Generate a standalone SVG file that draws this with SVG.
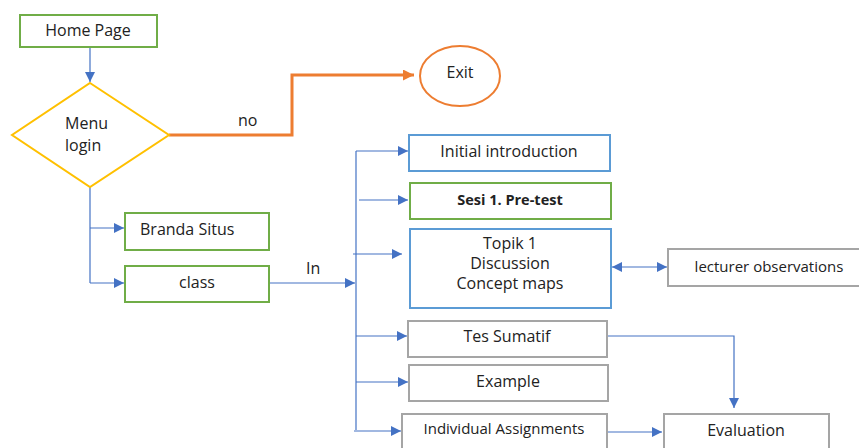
<svg xmlns="http://www.w3.org/2000/svg" width="859" height="448" viewBox="0 0 859 448">
<style>
text{font-family:"Open Sans","Liberation Sans",sans-serif;font-size:16px;fill:#222;}
.c{text-anchor:middle;}
.g{fill:#fff;stroke:#70AD47;stroke-width:2;}
.b{fill:#fff;stroke:#5B9BD5;stroke-width:2;}
.r{fill:#fff;stroke:#A5A5A5;stroke-width:2;}
.ln{fill:none;stroke:#4472C4;stroke-width:1.2;}
</style>
<defs>
<marker id="a" viewBox="0 0 10 10" refX="10" refY="5" markerWidth="10" markerHeight="10" markerUnits="userSpaceOnUse" orient="auto-start-reverse"><path d="M0,0L10,5L0,10z" fill="#4472C4"/></marker>
<marker id="o" viewBox="0 0 10 10" refX="10" refY="5" markerWidth="11" markerHeight="11" markerUnits="userSpaceOnUse" orient="auto"><path d="M0,0L10,5L0,10z" fill="#ED7D31"/></marker>
</defs>
<g id="connectors">
<path class="ln" d="M90,47V82" marker-end="url(#a)"/>
<path d="M169,135H292V75H414" fill="none" stroke="#ED7D31" stroke-width="3" marker-end="url(#o)"/>
<text x="238" y="126">no</text>
<path class="ln" d="M90,187V283"/>
<path class="ln" d="M90,228H124" marker-end="url(#a)"/>
<path class="ln" d="M90,283H124" marker-end="url(#a)"/>
<path class="ln" d="M269,283H355" marker-end="url(#a)"/>
<text x="306" y="274">In</text>
<path class="ln" d="M356,151V430"/>
<path class="ln" d="M356,151H408" marker-end="url(#a)"/>
<path class="ln" d="M359,200H408" marker-end="url(#a)"/>
<path class="ln" d="M353,254H402" marker-end="url(#a)"/>
<path class="ln" d="M356,336H407" marker-end="url(#a)"/>
<path class="ln" d="M356,382H408" marker-end="url(#a)"/>
<path class="ln" d="M354,431H401" marker-end="url(#a)"/>
<path class="ln" d="M612,267H667" marker-start="url(#a)" marker-end="url(#a)"/>
<path class="ln" d="M607,336H734V408" marker-end="url(#a)"/>
<path class="ln" d="M608,432H662" marker-end="url(#a)"/>
</g>
<g id="home"><rect class="g" x="20" y="15" width="137" height="32"/><text class="c" x="88" y="36">Home Page</text></g>
<g id="menu"><path d="M90,83L169,135L90,187L12,135z" fill="#fff" stroke="#FFC000" stroke-width="2"/><text x="65" y="129">Menu</text><text x="65" y="151">login</text></g>
<g id="exit"><ellipse cx="460" cy="76" rx="40" ry="30" fill="#fff" stroke="#ED7D31" stroke-width="2"/><text class="c" x="460" y="78">Exit</text></g>
<g id="branda"><rect class="g" x="125" y="213" width="144" height="37"/><text x="140" y="235">Branda Situs</text></g>
<g id="class"><rect class="g" x="125" y="266" width="144" height="36"/><text class="c" x="197" y="288">class</text></g>
<g id="initial"><rect class="b" x="409" y="135" width="201" height="36"/><text class="c" x="509" y="157">Initial introduction</text></g>
<g id="sesi"><rect class="g" x="410" y="183" width="201" height="36"/><text class="c" x="510" y="205" font-weight="bold" style="font-size:14.5px">Sesi 1. Pre-test</text></g>
<g id="topik"><rect class="b" x="410" y="229" width="201" height="79"/><g style="font-size:15.5px"><text class="c" x="510" y="249">Topik 1</text><text class="c" x="510" y="269">Discussion</text><text class="c" x="510" y="289">Concept maps</text></g></g>
<g id="lecturer"><rect class="r" x="668" y="249" width="195" height="37"/><text class="c" x="769" y="272" style="font-size:15px">lecturer observations</text></g>
<g id="tes"><rect class="r" x="408" y="321" width="199" height="36"/><text class="c" x="507" y="342">Tes Sumatif</text></g>
<g id="example"><rect class="r" x="409" y="365" width="199" height="36"/><text class="c" x="508" y="387">Example</text></g>
<g id="individual"><rect class="r" x="402" y="414" width="205" height="40"/><text class="c" x="504" y="434" style="font-size:15px">Individual Assignments</text></g>
<g id="evaluation"><rect class="r" x="664" y="414" width="165" height="40"/><text class="c" x="746" y="436">Evaluation</text></g>
</svg>
